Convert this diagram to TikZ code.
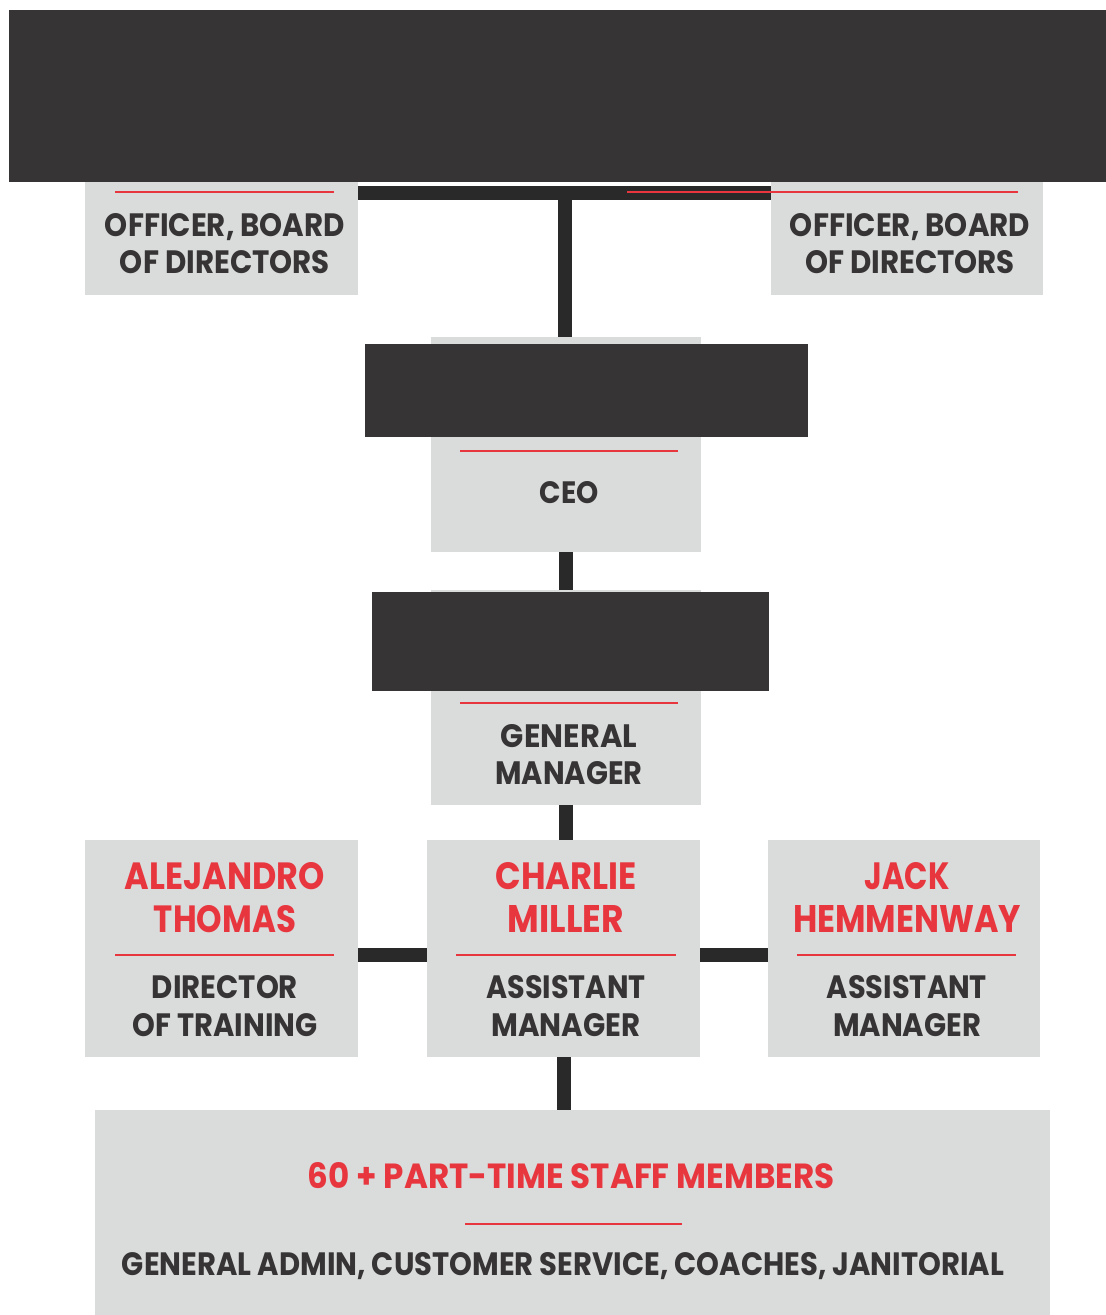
\documentclass[tikz,border=0pt]{standalone}
\usepackage{fontspec}
\setmainfont{Poppins}
\usepackage{graphicx}
\definecolor{ink}{HTML}{363435}
\definecolor{linkink}{HTML}{2A292A}
\definecolor{panel}{HTML}{DADBDB}
\definecolor{accent}{HTML}{E8363F}
% one line of capitals set to a given width and cap height
\newcommand{\fitline}[3]{\resizebox{#1pt}{#2pt}{\bfseries #3}}
\begin{document}
\begin{tikzpicture}[x=1pt,y=-1pt,
  panelbox/.style={fill=panel, draw=none, inner sep=0, outer sep=0},
  inkbox/.style={fill=ink, draw=none, inner sep=0, outer sep=0},
  stem/.style={draw=linkink, line width=14pt},
  rule/.style={draw=accent, line width=1.3pt},
  txt/.style={inner sep=0, anchor=base, text=ink},
  nm/.style={txt, text=accent}]
\useasboundingbox[fill=white] (0,0) rectangle (1106,1315);

% panels
\node[panelbox, minimum width=273pt, minimum height=113pt] (offl) at (221.5,238.5) {};
\node[panelbox, minimum width=272pt, minimum height=113pt] (offr) at (907,238.5) {};
\node[panelbox, minimum width=270pt, minimum height=215pt] (ceo) at (566,444.5) {};
\node[panelbox, minimum width=270pt, minimum height=215pt] (gm) at (566,697.5) {};
\node[panelbox, minimum width=273pt, minimum height=217pt] (alej) at (221.5,948.5) {};
\node[panelbox, minimum width=273pt, minimum height=217pt] (charlie) at (563.5,948.5) {};
\node[panelbox, minimum width=272pt, minimum height=217pt] (jack) at (904,948.5) {};
\node[panelbox, minimum width=955pt, minimum height=205pt] (staff) at (572.5,1212.5) {};

% crossbar under the banner
\node[inkbox, fill=linkink, minimum width=413pt, minimum height=14pt] (bar) at (564.5,193) {};

% connectors
\draw[stem] (bar.south) -- (bar.south |- ceo.north);
\draw[stem] (ceo.south) -- (gm.north);
\draw[stem] (gm.south) -- (gm.south |- charlie.north);
\draw[stem] (charlie.south) -- (charlie.south |- staff.north);
\draw[stem] ([yshift=-6.5pt]alej.east) -- ([yshift=-6.5pt]charlie.west);
\draw[stem] ([yshift=-6.5pt]charlie.east) -- ([yshift=-6.5pt]jack.west);

% dark blocks
\node[inkbox, minimum width=1097pt, minimum height=172pt] (banner) at (557.5,96) {};
\node[inkbox, minimum width=443pt, minimum height=93pt] (ceoblock) at (586.5,390.5) {};
\node[inkbox, minimum width=397pt, minimum height=99pt] (gmblock) at (570.5,641.5) {};

% red rules
\draw[rule] (115,192) -- (334,192);
\draw[rule] (627,192) -- (1018,192);
\draw[rule] (460,451) -- (678,451);
\draw[rule] (460,703) -- (678,703);
\draw[rule] (115,955) -- (334,955);
\draw[rule] (456,955) -- (676,955);
\draw[rule] (797,955) -- (1016,955);
\draw[rule] (465,1224) -- (682,1224);

% texts
\node[txt] (offl1) at (225,236.5) {\fitline{240}{23}{OFFICER, BOARD}};
\node[txt] (offl2) at (225,273.5) {\fitline{210}{23}{OF DIRECTORS}};
\node[txt] (offr1) at (910,236.5) {\fitline{240}{23}{OFFICER, BOARD}};
\node[txt] (offr2) at (910,273.5) {\fitline{210}{23}{OF DIRECTORS}};

\node[txt] (ceot) at (569,503) {\fitline{59}{22}{CEO}};

\node[txt] (gm1) at (569,747.5) {\fitline{136}{23}{GENERAL}};
\node[txt] (gm2) at (569,784.5) {\fitline{147}{23}{MANAGER}};

\node[nm] (alej1) at (225,889.5) {\fitline{200}{27}{ALEJANDRO}};
\node[nm] (alej2) at (225,932.5) {\fitline{142}{27}{THOMAS}};
\node[txt] (alej3) at (225,998.5) {\fitline{146}{23}{DIRECTOR}};
\node[txt] (alej4) at (225,1036.5) {\fitline{185}{23}{OF TRAINING}};

\node[nm] (char1) at (566,889.5) {\fitline{141}{27}{CHARLIE}};
\node[nm] (char2) at (566,932.5) {\fitline{116}{27}{MILLER}};
\node[txt] (char3) at (566,998.5) {\fitline{159}{23}{ASSISTANT}};
\node[txt] (char4) at (566,1036.5) {\fitline{149}{23}{MANAGER}};

\node[nm] (jack1) at (907,889.5) {\fitline{85}{27}{JACK}};
\node[nm] (jack2) at (907,932.5) {\fitline{228}{27}{HEMMENWAY}};
\node[txt] (jack3) at (907,998.5) {\fitline{160}{23}{ASSISTANT}};
\node[txt] (jack4) at (907,1036.5) {\fitline{148}{23}{MANAGER}};

\node[nm] (staff1) at (571,1188.5) {\fitline{527}{26}{60 + PART-TIME STAFF MEMBERS}};
\node[txt] (staff2) at (563,1275.5) {\fitline{882}{23}{GENERAL ADMIN, CUSTOMER SERVICE, COACHES, JANITORIAL}};
\end{tikzpicture}
\end{document}
